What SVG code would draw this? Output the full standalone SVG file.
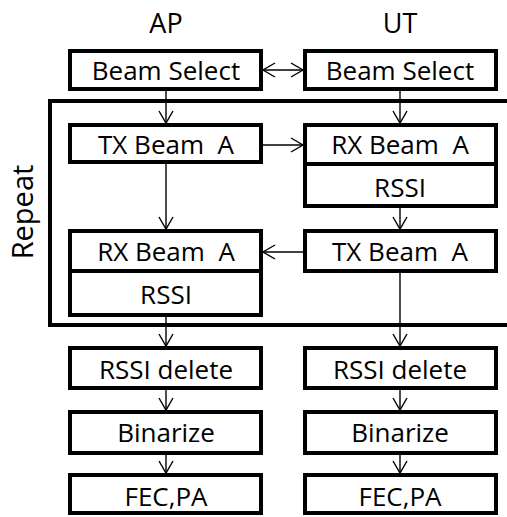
<svg xmlns="http://www.w3.org/2000/svg" width="507" height="517" viewBox="0 0 507 517">
<style>
.box{fill:#fff;stroke:#000;stroke-width:4}
.t{font-family:"Open Sans","Liberation Sans",sans-serif;font-size:26px;fill:#000;text-anchor:middle;white-space:pre}
.h{font-size:27px}
.r{font-size:29px}
.c{stroke:#000;stroke-width:1.4;fill:none}
</style>
<defs>
<marker id="ah" markerUnits="userSpaceOnUse" viewBox="-14 -9 16 18" refX="0" refY="0" markerWidth="16" markerHeight="18" orient="auto-start-reverse">
<path d="M-12,-7 L0,0 L-12,7" fill="none" stroke="#000" stroke-width="1.4"/>
</marker>
</defs>
<rect width="507" height="517" fill="#fff"/>
<g id="frame">
<path d="M507,101 H50 V325 H507" fill="none" stroke="#000" stroke-width="4"/>
<text class="t r" transform="translate(33,212) rotate(-90)">Repeat</text>
</g>
<g id="headers">
<text class="t h" x="166" y="33">AP</text>
<text class="t h" x="400" y="33">UT</text>
</g>
<g id="connectors">
<line class="c" x1="263" y1="70" x2="303" y2="70" marker-start="url(#ah)" marker-end="url(#ah)"/>
<line class="c" x1="166" y1="91" x2="166" y2="123" marker-end="url(#ah)"/>
<line class="c" x1="400" y1="91" x2="400" y2="123" marker-end="url(#ah)"/>
<line class="c" x1="263" y1="145" x2="303" y2="145" marker-end="url(#ah)"/>
<line class="c" x1="166" y1="164" x2="166" y2="229" marker-end="url(#ah)"/>
<line class="c" x1="400" y1="208" x2="400" y2="229" marker-end="url(#ah)"/>
<line class="c" x1="303" y1="252" x2="263" y2="252" marker-end="url(#ah)"/>
<line class="c" x1="166" y1="317" x2="166" y2="346" marker-end="url(#ah)"/>
<line class="c" x1="400" y1="272" x2="400" y2="346" marker-end="url(#ah)"/>
<line class="c" x1="166" y1="390" x2="166" y2="410" marker-end="url(#ah)"/>
<line class="c" x1="400" y1="390" x2="400" y2="410" marker-end="url(#ah)"/>
<line class="c" x1="166" y1="455" x2="166" y2="473" marker-end="url(#ah)"/>
<line class="c" x1="400" y1="455" x2="400" y2="473" marker-end="url(#ah)"/>
</g>
<g id="ap-beam-select"><rect class="box" x="70" y="51" width="191" height="38"/><text class="t" x="166" y="80">Beam Select</text></g>
<g id="ut-beam-select"><rect class="box" x="305" y="51" width="191" height="38"/><text class="t" x="400" y="80">Beam Select</text></g>
<g id="ap-tx"><rect class="box" x="70" y="125" width="191" height="37"/><text class="t" x="166" y="154">TX Beam  A</text></g>
<g id="ut-rx"><rect class="box" x="305" y="125" width="191" height="39"/><text class="t" x="400" y="154">RX Beam  A</text></g>
<g id="ut-rssi"><rect class="box" x="305" y="164" width="191" height="42"/><text class="t" x="400" y="197">RSSI</text></g>
<g id="ap-rx"><rect class="box" x="70" y="231" width="191" height="40"/><text class="t" x="166" y="261">RX Beam  A</text></g>
<g id="ap-rssi"><rect class="box" x="70" y="271" width="191" height="44"/><text class="t" x="166" y="304">RSSI</text></g>
<g id="ut-tx"><rect class="box" x="305" y="231" width="191" height="40"/><text class="t" x="400" y="261">TX Beam  A</text></g>
<g id="ap-rssi-delete"><rect class="box" x="70" y="348" width="191" height="40"/><text class="t" x="166" y="379">RSSI delete</text></g>
<g id="ut-rssi-delete"><rect class="box" x="305" y="348" width="191" height="40"/><text class="t" x="400" y="379">RSSI delete</text></g>
<g id="ap-binarize"><rect class="box" x="70" y="412" width="191" height="41"/><text class="t" x="166" y="442">Binarize</text></g>
<g id="ut-binarize"><rect class="box" x="305" y="412" width="191" height="41"/><text class="t" x="400" y="442">Binarize</text></g>
<g id="ap-fec"><rect class="box" x="70" y="475" width="191" height="38"/><text class="t" x="166" y="506">FEC,PA</text></g>
<g id="ut-fec"><rect class="box" x="305" y="475" width="191" height="38"/><text class="t" x="400" y="506">FEC,PA</text></g>
</svg>
